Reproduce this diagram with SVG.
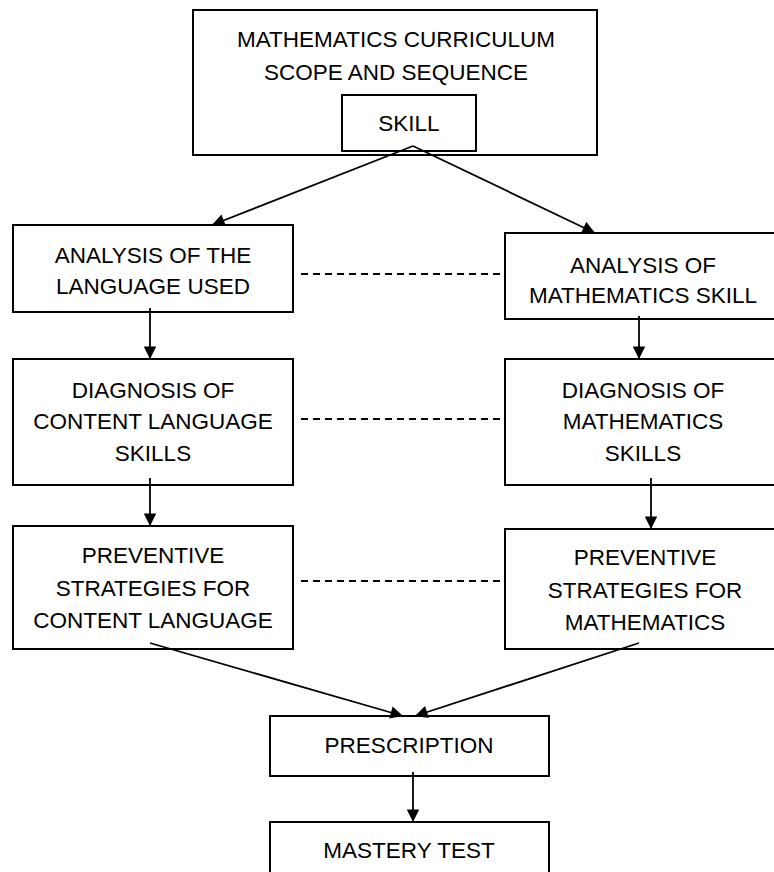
<svg xmlns="http://www.w3.org/2000/svg" width="774" height="872" viewBox="0 0 774 872">
<defs>
<style>
.box{fill:#fff;stroke:#000;stroke-width:2}
.t{font-family:"Liberation Sans",Arial,sans-serif;font-size:22.5px;fill:#000;text-anchor:middle}
.c{stroke:#000;stroke-width:1.8;fill:none}
.d{stroke:#000;stroke-width:1.8;fill:none;stroke-dasharray:7,5}
</style>
<marker id="ah" viewBox="0 0 10 10" refX="10" refY="5" markerWidth="7.5" markerHeight="7" markerUnits="strokeWidth" orient="auto">
<path d="M0,0 L10,5 L0,10 Z" fill="#000"/>
</marker>
</defs>
<rect width="774" height="872" fill="#fff"/>
<g id="n-curriculum">
<rect class="box" x="193" y="10" width="404" height="145"/>
<text class="t" x="396" y="47">MATHEMATICS CURRICULUM</text>
<text class="t" x="396" y="80">SCOPE AND SEQUENCE</text>
</g>
<g id="n-skill">
<rect class="box" x="342" y="95" width="134" height="56"/>
<text class="t" x="409" y="131">SKILL</text>
</g>
<g id="n-analysis-lang">
<rect class="box" x="13" y="225" width="280" height="87"/>
<text class="t" x="153" y="263">ANALYSIS OF THE</text>
<text class="t" x="153" y="294">LANGUAGE USED</text>
</g>
<g id="n-analysis-math">
<rect class="box" x="505" y="233" width="280" height="86"/>
<text class="t" x="643" y="273">ANALYSIS OF</text>
<text class="t" x="643" y="303">MATHEMATICS SKILL</text>
</g>
<g id="n-diag-lang">
<rect class="box" x="13" y="359" width="280" height="126"/>
<text class="t" x="153" y="398">DIAGNOSIS OF</text>
<text class="t" x="153" y="429">CONTENT LANGUAGE</text>
<text class="t" x="153" y="461">SKILLS</text>
</g>
<g id="n-diag-math">
<rect class="box" x="505" y="359" width="280" height="126"/>
<text class="t" x="643" y="398">DIAGNOSIS OF</text>
<text class="t" x="643" y="429">MATHEMATICS</text>
<text class="t" x="643" y="461">SKILLS</text>
</g>
<g id="n-prev-lang">
<rect class="box" x="13" y="526" width="280" height="123"/>
<text class="t" x="153" y="563">PREVENTIVE</text>
<text class="t" x="153" y="596">STRATEGIES FOR</text>
<text class="t" x="153" y="628">CONTENT LANGUAGE</text>
</g>
<g id="n-prev-math">
<rect class="box" x="505" y="529" width="280" height="120"/>
<text class="t" x="645" y="565">PREVENTIVE</text>
<text class="t" x="645" y="598">STRATEGIES FOR</text>
<text class="t" x="645" y="630">MATHEMATICS</text>
</g>
<g id="n-prescription">
<rect class="box" x="270" y="716" width="279" height="60"/>
<text class="t" x="409" y="753">PRESCRIPTION</text>
</g>
<g id="n-mastery">
<rect class="box" x="270" y="822" width="279" height="60"/>
<text class="t" x="409" y="858">MASTERY TEST</text>
</g>
<g id="connectors">
<line class="c" x1="413" y1="146" x2="212" y2="225" marker-end="url(#ah)"/>
<line class="c" x1="413" y1="146" x2="595" y2="233" marker-end="url(#ah)"/>
<line class="c" x1="150" y1="308" x2="150" y2="359" marker-end="url(#ah)"/>
<line class="c" x1="639" y1="316" x2="639" y2="359" marker-end="url(#ah)"/>
<line class="c" x1="150" y1="478" x2="150" y2="526" marker-end="url(#ah)"/>
<line class="c" x1="651" y1="478" x2="651" y2="529" marker-end="url(#ah)"/>
<line class="c" x1="150" y1="643" x2="403" y2="716" marker-end="url(#ah)"/>
<line class="c" x1="639" y1="643" x2="415" y2="716" marker-end="url(#ah)"/>
<line class="c" x1="413" y1="772" x2="413" y2="822" marker-end="url(#ah)"/>
<line class="d" x1="301" y1="274" x2="505" y2="274"/>
<line class="d" x1="301" y1="419" x2="505" y2="419"/>
<line class="d" x1="301" y1="581" x2="505" y2="581"/>
</g>
</svg>
